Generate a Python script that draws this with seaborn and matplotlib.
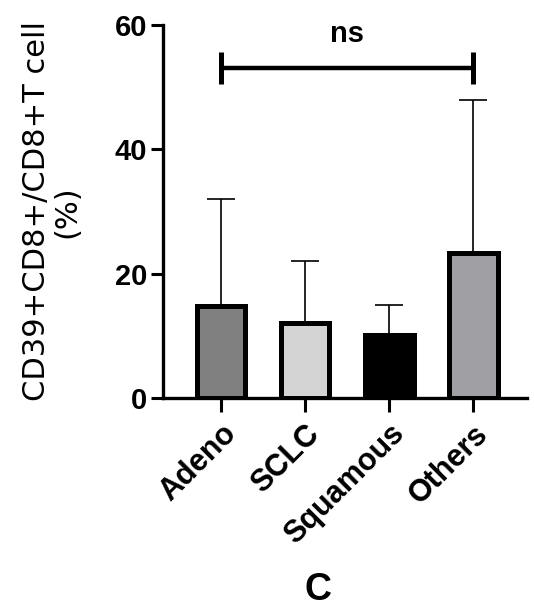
import numpy as np
import pandas as pd
import matplotlib
matplotlib.use('Agg')
import matplotlib.pyplot as plt
import seaborn as sns

# Data
categories = ['Adeno', 'SCLC', 'Squamous', 'Others']
means = [14.8, 12.0, 10.1, 23.3]
upper = [32.0, 22.0, 15.0, 48.0]   # top of the error bars
colors = ['#808080', '#d4d4d4', '#000000', '#a0a0a4']

sns.set_style('ticks')
plt.rcParams['font.family'] = ['Liberation Sans', 'DejaVu Sans']
for k in ['text.color', 'axes.labelcolor', 'xtick.color', 'ytick.color', 'axes.edgecolor']:
    plt.rcParams[k] = 'black'

df = pd.DataFrame({'type': categories, 'value': means})

fig = plt.figure(figsize=(5.34, 6.09), dpi=100)
ax = fig.add_axes([0.305, 0.3465, 0.682, 0.6125])

sns.barplot(data=df, x='type', y='value', hue='type', palette=colors,
            legend=False, width=0.58, edgecolor='black', linewidth=3.6,
            saturation=1, ax=ax)

# error bars, upper side only
err = np.array(upper) - np.array(means)
ax.errorbar(np.arange(len(categories)), means,
            yerr=[np.zeros(len(err)), err], fmt='none',
            ecolor='black', elinewidth=1.2, capsize=10, capthick=1.2, zorder=1)

ax.set_ylim(0, 60)
ax.set_xlim(-0.69, 3.64)
ax.set_yticks([0, 20, 40, 60])
sns.despine(ax=ax)
for s in ['left', 'bottom']:
    ax.spines[s].set_linewidth(2.4)
ax.tick_params(axis='y', length=8.5, width=2.2, pad=3, labelsize=21)
ax.tick_params(axis='x', length=10, width=2.2, pad=5, labelsize=22)
for t in ax.get_yticklabels():
    t.set_fontweight('bold')
ax.set_xticks(range(len(categories)))
ax.set_xticklabels(categories, rotation=45, ha='right', rotation_mode='anchor',
                   fontweight='bold')

ax.set_xlabel('')
ax.set_ylabel('CD39+CD8+/CD8+T cell\n(%)', fontsize=22, family='DejaVu Sans',
              linespacing=1.05)
ax.yaxis.set_label_coords(-0.225, 0.5)

# significance bracket
ax.plot([0, 3], [53.1, 53.1], color='black', lw=3.2, solid_capstyle='butt')
ax.plot([0, 0], [50.5, 55.7], color='black', lw=3.6, solid_capstyle='butt')
ax.plot([3, 3], [50.5, 55.7], color='black', lw=3.6, solid_capstyle='butt')
ax.text(1.5, 58.5, 'ns', ha='center', va='center', fontsize=21,
        fontweight='bold', clip_on=False)

fig.text(318 / 534, 1 - 590 / 609, 'C', ha='center', va='center',
         fontsize=27, fontweight='bold')

fig.savefig('out.png', dpi=100)
